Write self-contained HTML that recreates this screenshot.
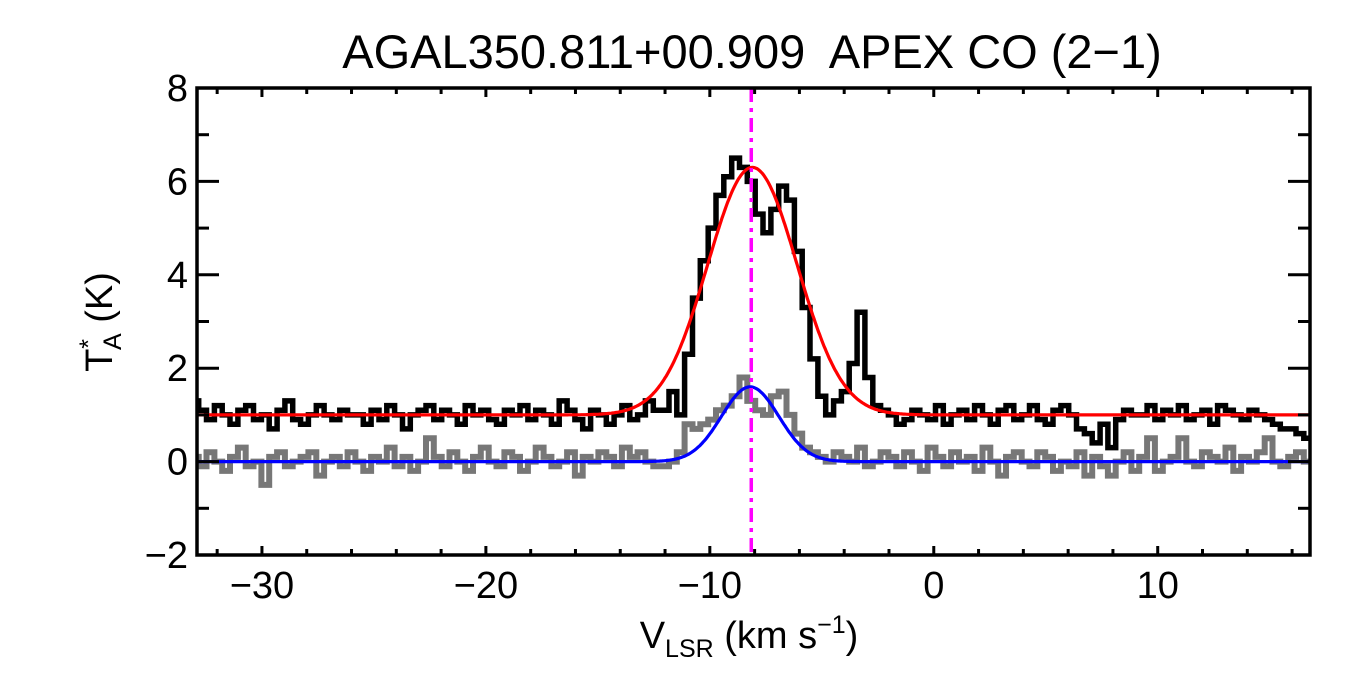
<!DOCTYPE html>
<html><head><meta charset="utf-8"><style>
body{margin:0;background:#fff;}
svg{display:block;font-family:"Liberation Sans",Arial,sans-serif;}
</style></head><body>
<svg id="c" width="1350" height="675"></svg>
<script>
const v0=-33, dv=0.35;
const coSpectrum=[1.3,1.1,0.9,1.2,1.0,0.8,1.1,1.2,0.9,1.0,0.7,1.1,1.3,0.9,0.8,1.0,1.2,1.0,0.9,1.1,1.0,1.0,0.8,1.1,0.9,1.2,1.0,0.7,1.0,1.1,1.2,0.9,1.1,1.0,0.8,1.2,1.0,1.1,0.9,0.8,1.1,1.0,1.2,0.9,1.1,1.0,0.8,1.3,1.1,0.9,0.7,1.1,1.0,0.8,1.0,1.2,0.9,1.0,1.3,1.1,
1.1,1.5,1.0,2.3,3.5,4.3,5.0,5.7,6.1,6.5,6.3,6.0,5.3,4.9,5.4,5.9,5.6,4.5,3.3,2.2,1.4,1.0,1.3,1.5,2.1,3.2,1.8,1.2,1.1,1.0,0.8,
0.9,1.1,1.0,0.9,1.2,0.8,1.0,1.1,0.9,1.2,1.0,0.8,1.1,1.2,0.9,1.0,1.2,0.9,0.8,1.1,1.2,1.0,0.7,0.6,0.4,0.8,0.3,0.9,1.1,1.0,1.0,1.2,0.9,1.1,1.0,1.2,0.9,1.0,1.1,0.8,1.2,1.1,1.0,0.9,1.1,1.0,0.9,0.8,0.7,0.7,0.6,0.5];
const grSpectrum=[0.1,-0.1,0.2,0.0,-0.2,0.1,0.3,-0.1,0.0,-0.5,0.1,0.2,-0.1,0.0,0.1,0.2,-0.3,0.0,0.1,-0.1,0.2,0.0,-0.2,0.1,0.0,0.3,-0.1,0.1,-0.2,0.0,0.5,0.1,-0.1,0.2,0.0,-0.2,0.1,0.3,0.0,-0.1,0.2,0.1,-0.2,0.0,0.3,0.1,-0.1,0.0,0.2,-0.3,0.1,0.0,0.2,0.1,-0.1,0.3,0.1,0.2,0.0,-0.1,
-0.1,0.0,0.2,0.8,0.7,0.8,0.9,1.1,1.2,1.4,1.8,1.3,1.1,1.0,1.4,1.5,1.0,0.6,0.3,0.2,0.1,0.0,0.2,0.1,0.0,0.3,-0.1,0.0,0.2,0.1,-0.1,
0.2,0.0,-0.2,0.3,0.1,-0.1,0.2,0.0,0.1,-0.2,0.3,0.0,-0.3,0.1,0.2,0.0,-0.1,0.2,0.1,-0.2,0.0,-0.1,0.2,-0.3,0.1,-0.1,-0.3,0.0,0.2,-0.2,0.1,0.5,-0.2,0.0,0.1,0.5,0.0,-0.1,0.2,0.1,0.0,0.3,-0.2,0.1,0.0,0.2,0.5,0.0,-0.1,0.1,0.2,0.0];
const redFit=[1.0,5.3,-8.1,2.0];   // base, amp, center, sigma
const blueFit=[0.0,1.6,-8.2,1.28];
const vMarker=-8.15;
const xTicks=[-30,-20,-10,0,10];
const yTicks=[-2,0,2,4,6,8];

const L=197,R=1310,T=88,B=555, xmin=-32.9,xmax=16.8,ymin=-2,ymax=8;
const X=v=>L+(v-xmin)/(xmax-xmin)*(R-L);
const Y=t=>B-(t-ymin)/(ymax-ymin)*(B-T);
const svg=document.getElementById('c');
const NS='http://www.w3.org/2000/svg';
function mk(tag,attrs,parent){const e=document.createElementNS(NS,tag);for(const k in attrs)e.setAttribute(k,attrs[k]);(parent||svg).appendChild(e);return e;}
const clip=mk('clipPath',{id:'cp'});mk('rect',{x:L,y:T,width:R-L,height:B-T},clip);

function stairs(arr){let d='';arr.forEach((t,i)=>{const v=v0+i*dv;const x1=X(Math.max(v-dv/2,xmin)),x2=X(v+dv/2);d+=(i?'L':'M')+x1.toFixed(1)+','+Y(t).toFixed(1)+'L'+x2.toFixed(1)+','+Y(t).toFixed(1);});return d;}
function gauss(p){let d='';for(let v=xmin;v<=xmax;v+=0.05){const t=p[0]+p[1]*Math.exp(-(v-p[2])*(v-p[2])/(2*p[3]*p[3]));d+=(d?'L':'M')+X(v).toFixed(1)+','+Y(t).toFixed(1);}return d;}

let e;
e=mk('path',{d:stairs(grSpectrum),fill:'none',stroke:'#777',"stroke-width":6,"clip-path":'url(#cp)'});

e=mk('path',{d:stairs(coSpectrum),fill:'none',stroke:'#000',"stroke-width":5.5,"clip-path":'url(#cp)'});

e=mk('path',{d:gauss(redFit),fill:'none',stroke:'#f00',"stroke-width":3.2,"clip-path":'url(#cp)'});

e=mk('path',{d:gauss(blueFit),fill:'none',stroke:'#00f',"stroke-width":3.2,"clip-path":'url(#cp)'});

e=mk('line',{x1:X(vMarker),x2:X(vMarker),y1:T,y2:B,stroke:'#f0f',"stroke-width":3.5,"stroke-dasharray":'14,6,4,6'});


e=mk('rect',{x:L,y:T,width:R-L,height:B-T,fill:'none',stroke:'#000',"stroke-width":3.5});

const tg=mk('g',{stroke:'#000',"stroke-width":3});

for(let v=-32;v<=16;v+=2){const x=X(v),maj=v%10===0,l=maj?9:6;mk('line',{x1:x,x2:x,y1:B,y2:B-l},tg);mk('line',{x1:x,x2:x,y1:T,y2:T+l},tg);}
for(let t=-2;t<=8;t+=1){const y=Y(t),maj=Math.abs(t%2)<1e-6,l=maj?22:12;mk('line',{x1:L,x2:L+l,y1:y,y2:y},tg);mk('line',{x1:R,x2:R-l,y1:y,y2:y},tg);}
xTicks.forEach(v=>{const t=mk('text',{x:X(v),y:598,"font-size":38,"text-anchor":'middle'});t.textContent=(v<0?'\u2212'+(-v):v);});
yTicks.forEach(v=>{const t=mk('text',{x:188,y:Y(v)+13,"font-size":38,"text-anchor":'end'});t.textContent=(v<0?'\u2212'+(-v):v);});
</script>
<div style="position:absolute;left:0;top:0;width:1350px;height:675px;pointer-events:none">
<svg width="1350" height="675" style="position:absolute;left:0;top:0">
<text x="752" y="68" font-size="47" text-anchor="middle" font-family="Liberation Sans,sans-serif" xml:space="preserve">AGAL350.811+00.909  APEX CO (2−1)</text>
<text x="749" y="648" font-size="38" text-anchor="middle" font-family="Liberation Sans,sans-serif">V<tspan font-size="25" dy="9">LSR</tspan><tspan dy="-9"> (km s</tspan><tspan font-size="25" dy="-15">−1</tspan><tspan dy="15">)</tspan></text>
<text transform="translate(112,322) rotate(-90)" font-size="38" text-anchor="middle" font-family="Liberation Sans,sans-serif">T<tspan font-size="25" dy="-15">*</tspan><tspan font-size="25" dx="-11" dy="24">A</tspan><tspan dy="-9"> (K)</tspan></text>
</svg></div>
</body></html>
